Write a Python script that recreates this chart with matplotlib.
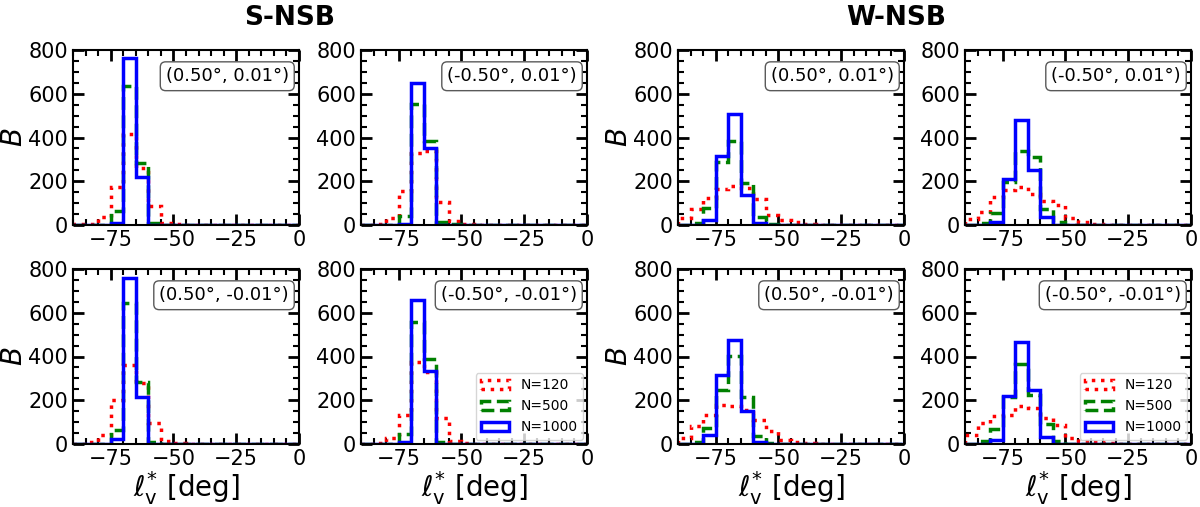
import numpy as np
import matplotlib
matplotlib.use("Agg")
import matplotlib.pyplot as plt
from matplotlib.ticker import MultipleLocator

# bordes de los bins (5 grados)
edges = np.arange(-90, 1, 5)

# cuentas por bin, desde -90 hasta 0 (18 bins)
# S-NSB (0.50, 0.01)
s1_120 = [3, 5, 38, 175, 415, 262, 88, 10, 3, 0, 0, 0, 0, 0, 0, 0, 0, 0]
s1_500 = [0, 0, 0, 65, 637, 285, 8, 2, 0, 0, 0, 0, 0, 0, 0, 0, 0, 0]
s1_1000 = [0, 0, 0, 10, 762, 221, 2, 0, 0, 0, 0, 0, 0, 0, 0, 0, 0, 0]
# S-NSB (-0.50, 0.01)
s2_120 = [2, 3, 33, 155, 331, 338, 107, 20, 5, 2, 0, 0, 0, 0, 0, 0, 0, 0]
s2_500 = [0, 0, 0, 43, 553, 385, 12, 3, 0, 0, 0, 0, 0, 0, 0, 0, 0, 0]
s2_1000 = [0, 0, 0, 3, 648, 350, 0, 0, 0, 0, 0, 0, 0, 0, 0, 0, 0, 0]
# W-NSB (0.50, 0.01)
w1_120 = [30, 71, 125, 163, 178, 170, 120, 45, 25, 13, 5, 2, 0, 0, 0, 0, 0, 0]
w1_500 = [0, 10, 79, 288, 383, 193, 36, 3, 0, 0, 0, 0, 0, 0, 0, 0, 0, 0]
w1_1000 = [0, 0, 25, 316, 507, 137, 10, 0, 0, 0, 0, 0, 0, 0, 0, 0, 0, 0]
# W-NSB (-0.50, 0.01)
w2_120 = [29, 60, 126, 160, 172, 144, 110, 92, 34, 14, 6, 2, 0, 0, 0, 0, 0, 0]
w2_500 = [0, 8, 57, 198, 340, 310, 75, 15, 0, 0, 0, 0, 0, 0, 0, 0, 0, 0]
w2_1000 = [0, 0, 15, 210, 481, 253, 37, 0, 0, 0, 0, 0, 0, 0, 0, 0, 0, 0]
# S-NSB (0.50, -0.01)
s3_120 = [2, 8, 42, 202, 362, 278, 96, 12, 3, 0, 0, 0, 0, 0, 0, 0, 0, 0]
s3_500 = [0, 0, 0, 65, 643, 283, 8, 0, 0, 0, 0, 0, 0, 0, 0, 0, 0, 0]
s3_1000 = [0, 0, 0, 23, 760, 217, 0, 0, 0, 0, 0, 0, 0, 0, 0, 0, 0, 0]
# S-NSB (-0.50, -0.01)
s4_120 = [0, 3, 27, 134, 373, 327, 119, 15, 5, 0, 0, 0, 0, 0, 0, 0, 0, 0]
s4_500 = [0, 0, 0, 47, 560, 388, 8, 0, 0, 0, 0, 0, 0, 0, 0, 0, 0, 0]
s4_1000 = [0, 0, 0, 8, 658, 336, 0, 0, 0, 0, 0, 0, 0, 0, 0, 0, 0, 0]
# W-NSB (0.50, -0.01)
w3_120 = [27, 84, 134, 179, 172, 157, 111, 58, 20, 9, 4, 0, 0, 0, 0, 0, 0, 0]
w3_500 = [0, 8, 73, 245, 403, 217, 38, 5, 0, 0, 0, 0, 0, 0, 0, 0, 0, 0]
w3_1000 = [0, 0, 43, 316, 476, 149, 8, 0, 0, 0, 0, 0, 0, 0, 0, 0, 0, 0]
# W-NSB (-0.50, -0.01)
w4_120 = [43, 96, 129, 134, 172, 165, 118, 88, 27, 12, 7, 3, 0, 0, 0, 0, 0, 0]
w4_500 = [0, 12, 68, 217, 367, 225, 93, 12, 0, 0, 0, 0, 0, 0, 0, 0, 0, 0]
w4_1000 = [0, 0, 17, 220, 468, 248, 30, 0, 0, 0, 0, 0, 0, 0, 0, 0, 0, 0]

etiquetas = ["(0.50°, 0.01°)", "(-0.50°, 0.01°)", "(0.50°, 0.01°)", "(-0.50°, 0.01°)",
             "(0.50°, -0.01°)", "(-0.50°, -0.01°)", "(0.50°, -0.01°)", "(-0.50°, -0.01°)"]
datos = [(s1_120, s1_500, s1_1000), (s2_120, s2_500, s2_1000),
         (w1_120, w1_500, w1_1000), (w2_120, w2_500, w2_1000),
         (s3_120, s3_500, s3_1000), (s4_120, s4_500, s4_1000),
         (w3_120, w3_500, w3_1000), (w4_120, w4_500, w4_1000)]

W, H = 1200, 507
fig = plt.figure(figsize=(12, 5.07), dpi=100)

lefts = [73, 361, 678, 965]
width = 226
tops = [50, 269]
height = 175

centros = edges[:-1] + 2.5
for k in range(8):
    fila, col = divmod(k, 4)
    ax = fig.add_axes([lefts[col] / W, 1 - (tops[fila] + height) / H, width / W, height / H])
    n120, n500, n1000 = datos[k]
    ax.hist(centros, bins=edges, weights=n120, histtype='step', color='red', ls=':', lw=2.5, label='N=120')
    ax.hist(centros, bins=edges, weights=n500, histtype='step', color='green', ls='--', lw=2.5, label='N=500')
    ax.hist(centros, bins=edges, weights=n1000, histtype='step', color='blue', ls='-', lw=2.5, label='N=1000')
    ax.set_xlim(-90, 0)
    ax.set_ylim(0, 800)
    ax.xaxis.set_major_locator(MultipleLocator(25))
    ax.xaxis.set_minor_locator(MultipleLocator(5))
    ax.yaxis.set_major_locator(MultipleLocator(200))
    ax.yaxis.set_minor_locator(MultipleLocator(50))
    ax.tick_params(which='both', direction='in', top=True, right=True, labelsize=15)
    ax.tick_params(which='major', length=8, width=2)
    ax.tick_params(which='minor', length=4, width=1.5)
    for s in ax.spines.values():
        s.set_linewidth(1.5)
    ax.text(0.955, 0.85, etiquetas[k], transform=ax.transAxes, ha='right', va='center', fontsize=13,
            bbox=dict(boxstyle='round,pad=0.3', fc='white', ec='0.35', lw=1))
    if col in (0, 2):
        ax.set_ylabel('$B$', fontsize=20, labelpad=0)
    if fila == 1:
        ax.set_xlabel(r'$\ell_{\rm v}^{*}$ [deg]', fontsize=20, labelpad=0)
    if fila == 1 and col in (1, 3):
        ax.legend(loc='lower right', fontsize=10, handlelength=2.0, borderaxespad=0.3)

fig.text(290 / W, 1 - 18 / H, 'S-NSB', ha='center', va='center', fontsize=19, fontweight='bold')
fig.text(896 / W, 1 - 18 / H, 'W-NSB', ha='center', va='center', fontsize=19, fontweight='bold')

fig.savefig('out.png', dpi=100)
